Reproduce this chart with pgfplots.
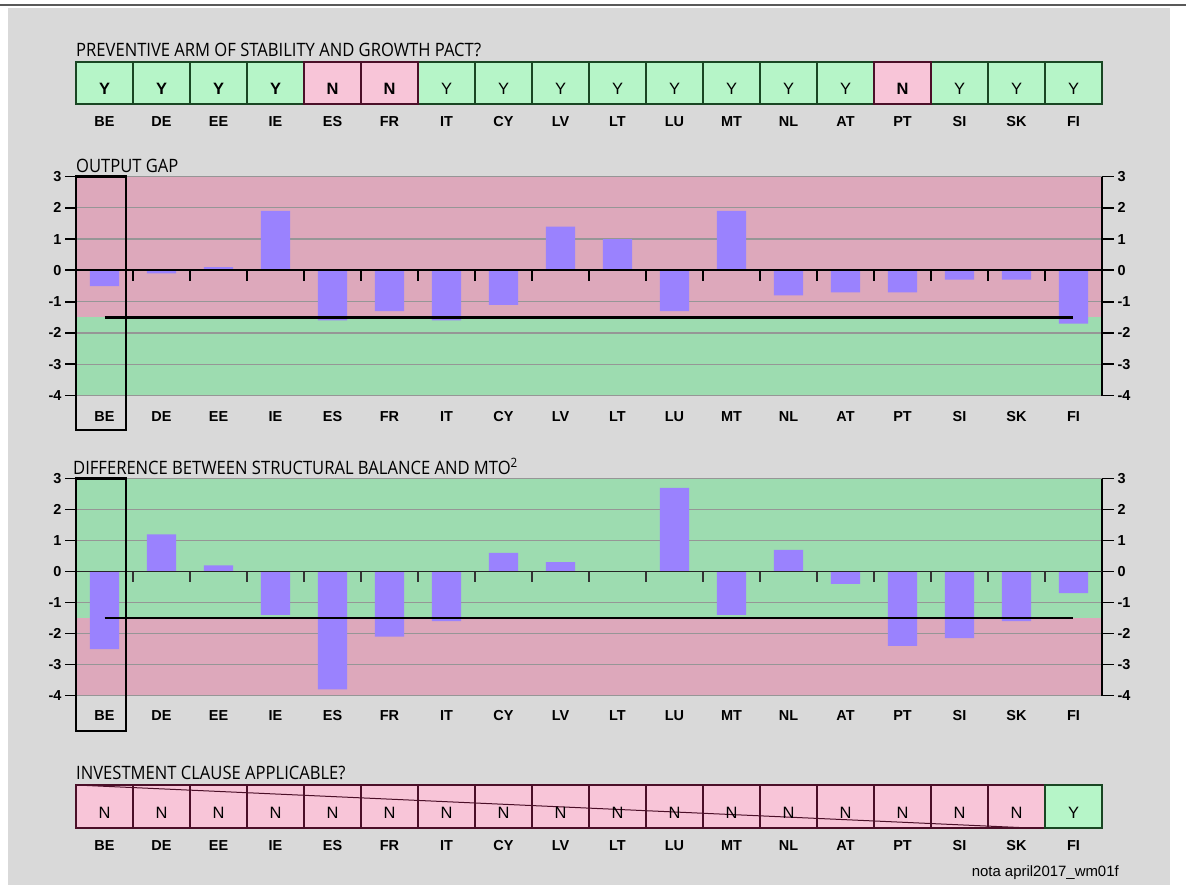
\documentclass[border=0pt]{standalone}
\usepackage{pgfplots}
\pgfplotsset{compat=1.18}
\usepackage{pgfplotstable}
\usepackage{fontspec}
\setmainfont{Liberation Sans}
\newfontfamily\titlefont[FakeStretch=0.9]{Open Sans}
\definecolor{bgray}{RGB}{217,217,217}
\definecolor{pinkbg}{RGB}{221,168,187}
\definecolor{greenbg}{RGB}{157,220,176}
\definecolor{barcol}{RGB}{154,130,254}
\definecolor{ycell}{RGB}{182,245,200}
\definecolor{ncell}{RGB}{248,197,216}
\definecolor{ydraw}{RGB}{25,70,35}
\definecolor{ndraw}{RGB}{75,15,40}
\definecolor{gridc}{RGB}{150,150,150}

\pgfplotstableread{
x og sb
0 -0.5 -2.5
1 -0.1 1.2
2 0.1 0.2
3 1.9 -1.4
4 -1.6 -3.8
5 -1.3 -2.1
6 -1.6 -1.6
7 -1.1 0.6
8 1.4 0.3
9 1.0 0.0
10 -1.3 2.7
11 1.9 -1.4
12 -0.8 0.7
13 -0.7 -0.4
14 -0.7 -2.4
15 -0.3 -2.15
16 -0.3 -1.6
17 -1.7 -0.7
}\bardata

\pgfplotsset{
  cn/.style={xtick={0,...,17}, xticklabels={BE,DE,EE,IE,ES,FR,IT,CY,LV,LT,LU,MT,NL,AT,PT,SI,SK,FI},
    xticklabel style={font=\bfseries\fontsize{14.5}{14.5}\selectfont, anchor=center, yshift=-#1}},
  strip/.style={scale only axis, width=1026bp, height=#1, xmin=-0.5, xmax=17.5, ymin=0, ymax=1, clip=false,
    axis x line*=bottom, axis y line=none, x axis line style={draw=none}, major tick length=0pt, ytick=\empty},
  letters/.style={draw=none, mark=none, nodes near coords, point meta=explicit symbolic,
    nodes near coords style={anchor=center, text=black}},
  chartB/.style={scale only axis, width=1026bp, height=#1, xmin=-0.5, xmax=17.5, ymin=-4, ymax=3, clip=false,
    axis x line*=bottom, axis y line*=left, x axis line style={draw=none}, y axis line style={black, line width=2bp, -},
    xtick style={draw=none}, ytick={-4,...,3}, yticklabels={-4,-3,-2,-1,0,1,2,3},
    tick align=outside, major tick length=11bp, ytick style={black, line width=1.8bp},
    yticklabel style={font=\bfseries\fontsize{14.5}{14.5}\selectfont}},
  chartA/.style={scale only axis, width=1026bp, height=#1, xmin=-0.5, xmax=17.5, ymin=-4, ymax=3, clip=false,
    axis x line=none, axis y line*=right, y axis line style={black, line width=2bp, -},
    ytick={-4,...,3}, yticklabels={-4,-3,-2,-1,0,1,2,3}, ymajorgrids, grid style={gridc, line width=1.3bp},
    tick align=outside, major tick length=12bp, ytick style={black, line width=1.8bp},
    yticklabel style={font=\bfseries\fontsize{14.5}{14.5}\selectfont}},
}

\begin{document}
\begin{tikzpicture}
\useasboundingbox (0,0) rectangle (1186bp,-885bp);
\fill[bgray] (8bp,-7.5bp) rectangle (1170bp,-885bp);
\draw[line width=2bp, black!65] (0,-5bp) -- (1186bp,-5bp);

% titles
\begin{scope}[every node/.style={anchor=base west, inner sep=0pt, font=\titlefont\fontsize{18.5}{18.5}\selectfont}]
\node at (76bp,-56bp) {PREVENTIVE ARM OF STABILITY AND GROWTH PACT?};
\node at (76bp,-172bp) {OUTPUT GAP};
\node at (73bp,-474bp) {DIFFERENCE BETWEEN STRUCTURAL BALANCE AND MTO\textsuperscript{2}};
\node at (76bp,-779bp) {INVESTMENT CLAUSE APPLICABLE?};
\end{scope}
\node[anchor=base east, inner sep=0pt, font=\fontsize{15}{15}\selectfont] at (1119bp,-876bp) {nota april2017\_wm01f};

% top strip
\begin{axis}[strip=42bp, cn=18bp, at={(76bp,-104bp)}, anchor=south west]
\addplot[ybar, bar width=1, bar shift=0pt, fill=ycell, draw=ydraw, line width=1.8bp] coordinates {(0,1)(1,1)(2,1)(3,1)(6,1)(7,1)(8,1)(9,1)(10,1)(11,1)(12,1)(13,1)(15,1)(16,1)(17,1)};
\addplot[ybar, bar width=1, bar shift=0pt, fill=ncell, draw=ndraw, line width=1.8bp] coordinates {(4,1)(5,1)(14,1)};
\addplot[letters, nodes near coords style={font=\bfseries\fontsize{16.5}{16.5}\selectfont}] table[meta=l] {
x y l
0 0.36 Y
1 0.36 Y
2 0.36 Y
3 0.36 Y
4 0.36 N
5 0.36 N
14 0.36 N
};
\addplot[letters, nodes near coords style={font=\fontsize{16.5}{16.5}\selectfont}] table[meta=l] {
x y l
6 0.36 Y
7 0.36 Y
8 0.36 Y
9 0.36 Y
10 0.36 Y
11 0.36 Y
12 0.36 Y
13 0.36 Y
15 0.36 Y
16 0.36 Y
17 0.36 Y
};
\end{axis}

% output gap
\begin{axis}[chartB=219bp, cn=10.5bp, at={(76bp,-395.5bp)}, anchor=south west]
\addplot[fill=pinkbg, draw=none] coordinates {(-0.5,-1.5) (17.5,-1.5) (17.5,3) (-0.5,3)} -- cycle;
\addplot[fill=greenbg, draw=none] coordinates {(-0.5,-4) (17.5,-4) (17.5,-1.5) (-0.5,-1.5)} -- cycle;
\end{axis}
\begin{axis}[chartA=219bp, at={(76bp,-395.5bp)}, anchor=south west]
\addplot[ybar, bar width=0.51, bar shift=0pt, fill=barcol, draw=none] table[x=x, y=og] {\bardata};
\addplot[black, line width=2bp] coordinates {(-0.5,0) (17.5,0)};
\pgfplotsinvokeforeach{0.5,1.5,...,16.5}{\addplot[black, line width=1.6bp] coordinates {(#1,0) (#1,-0.33)};}
\addplot[black, line width=2.5bp] coordinates {(0,-1.5) (17,-1.5)};
\draw[black, line width=2.5bp] (axis cs:-0.5,3) rectangle (axis cs:0.377,-5.1);
\end{axis}

% structural balance
\begin{axis}[chartB=217bp, cn=9.5bp, at={(76bp,-695.5bp)}, anchor=south west]
\addplot[fill=greenbg, draw=none] coordinates {(-0.5,-1.5) (17.5,-1.5) (17.5,3) (-0.5,3)} -- cycle;
\addplot[fill=pinkbg, draw=none] coordinates {(-0.5,-4) (17.5,-4) (17.5,-1.5) (-0.5,-1.5)} -- cycle;
\end{axis}
\begin{axis}[chartA=217bp, at={(76bp,-695.5bp)}, anchor=south west]
\addplot[ybar, bar width=0.51, bar shift=0pt, fill=barcol, draw=none] table[x=x, y=sb] {\bardata};
\addplot[black!85, line width=1.6bp] coordinates {(-0.5,0) (17.5,0)};
\pgfplotsinvokeforeach{0.5,1.5,...,16.5}{\addplot[black!80, line width=1.1bp] coordinates {(#1,0) (#1,-0.33)};}
\addplot[black, line width=2.5bp] coordinates {(0,-1.5) (17,-1.5)};
\draw[black, line width=2.5bp] (axis cs:-0.5,3) rectangle (axis cs:0.377,-5.15);
\end{axis}

% bottom strip
\begin{axis}[strip=43bp, cn=18bp, at={(76bp,-828bp)}, anchor=south west]
\addplot[ybar, bar width=1, bar shift=0pt, fill=ncell, draw=ndraw, line width=1.8bp] coordinates {(0,1)(1,1)(2,1)(3,1)(4,1)(5,1)(6,1)(7,1)(8,1)(9,1)(10,1)(11,1)(12,1)(13,1)(14,1)(15,1)(16,1)};
\addplot[ybar, bar width=1, bar shift=0pt, fill=ycell, draw=ydraw, line width=1.8bp] coordinates {(17,1)};
\addplot[ndraw, line width=1bp] coordinates {(-0.5,1) (16.24,0)};
\addplot[letters, nodes near coords style={font=\fontsize{16.5}{16.5}\selectfont}] table[meta=l] {
x y l
0 0.36 N
1 0.36 N
2 0.36 N
3 0.36 N
4 0.36 N
5 0.36 N
6 0.36 N
7 0.36 N
8 0.36 N
9 0.36 N
10 0.36 N
11 0.36 N
12 0.36 N
13 0.36 N
14 0.36 N
15 0.36 N
16 0.36 N
17 0.36 Y
};
\end{axis}
\end{tikzpicture}
\end{document}
